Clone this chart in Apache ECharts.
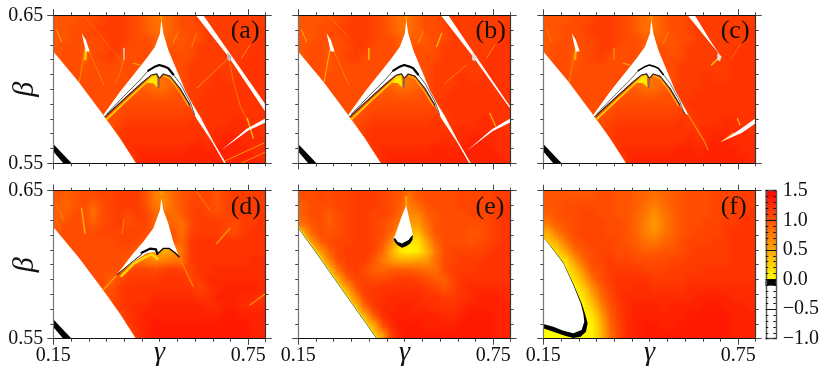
<!DOCTYPE html>
<html><head><meta charset="utf-8">
<style>html,body{margin:0;padding:0;background:#fff}#c{width:830px;height:374px}</style>
<script src="https://cdn.jsdelivr.net/npm/echarts@6/dist/echarts.min.js"></script>
</head><body><div id="c"></div>
<script>
// ---------- tick values ----------
const gammaMin = 0.15, gammaMax = 0.8035, betaMin = 0.55, betaMax = 0.65;
const gammaTicks = [0.15,0.2045,0.2591,0.3136,0.3682,0.4227,0.4773,0.5318,0.5864,0.6409,0.6955,0.75,0.8035];
const gammaLabels = [0.15,0.75];
const betaTicks = [0.55,0.56,0.57,0.58,0.59,0.6,0.61,0.62,0.63,0.64,0.65];
const betaLabels = [0.55,0.65];
const barTicks = [-1,-0.9,-0.8,-0.7,-0.6,-0.5,-0.4,-0.3,-0.2,-0.1,0,0.1,0.2,0.3,0.4,0.5,0.6,0.7,0.8,0.9,1,1.1,1.2,1.3,1.4,1.5];
const barMajor = [-0.5,0,0.5,1];
const barLabels = [-1,-0.5,0,0.5,1,1.5];
const barLevels = [-0.975,-0.925,-0.875,-0.825,-0.775,-0.725,-0.675,-0.625,-0.575,-0.525,-0.475,-0.425,-0.375,-0.325,-0.275,-0.225,-0.175,-0.125,-0.075,-0.025,0.025,0.075,0.125,0.175,0.225,0.275,0.325,0.375,0.425,0.475,0.525,0.575,0.625,0.675,0.725,0.775,0.825,0.875,0.925,0.975,1.025,1.075,1.125,1.175,1.225,1.275,1.325,1.375,1.425,1.475];

// ---------- sampled colour-scale values, rows from beta=0.65 down to beta=0.55 ----------
const fieldA = [
[1,1,1,1.05,1.05,1.1,1.15,1.15,1.1,1.05,.95,.85,.85,.95,1.05,1.05,1.1,1.15,1.15,1.15,1.15,1.15,1.15,1.15],
[1,1,1.05,1.05,1.1,1.15,1.15,1.15,1.1,1.05,.95,.85,.85,.95,1.05,1.05,1.1,1.15,1.15,1.15,1.15,1.15,1.15,1.2],
[1,1,1.05,1.05,1.05,1.1,1.15,1.15,1.1,1.05,1.05,.95,.95,.95,1,1.05,1.05,1.15,1.15,1.15,1.15,1.15,1.15,1.2],
[1,1.05,1.05,1,1.05,1.05,1.15,1.15,1.05,1.05,1.05,.95,.95,1.05,1,1.05,1.15,1.15,1.15,1.15,1.15,1.15,1.2,1.2],
[1,1.05,1.05,1,1.05,1.1,1.15,1.05,1.05,1.05,1.05,1.05,1.05,1.05,1.05,1.05,1.15,1.15,1.15,1.15,1.15,1.2,1.2,1.2],
[1.05,1.05,1.05,1,1.05,1.05,1.05,1.05,1.05,1.05,1.05,1.05,1.05,1.05,1.05,1.15,1.15,1.15,1.15,1.15,1.15,1.2,1.2,1.2],
[1.05,1.05,1.05,1.05,1.05,1.05,1.05,1.05,1.05,1.05,.95,.85,.85,.95,1.05,1.15,1.15,1.15,1.2,1.15,1.15,1.2,1.2,1.2],
[1.05,1.05,1.05,1.05,1.05,1.05,1.05,1.05,1.05,1,.9,.8,.85,.9,1.05,1.15,1.15,1.15,1.2,1.2,1.2,1.2,1.2,1.2],
[1.05,1.05,1.05,1.05,1.05,1.05,1.05,1.05,1,1,1,.95,.95,1,1.05,1.15,1.15,1.2,1.2,1.2,1.2,1.2,1.2,1.2],
[1.05,1.05,1.05,1.05,1.05,1.05,1.05,1,1.05,1.05,1.05,1.05,1.05,1.05,1.05,1.1,1.2,1.2,1.2,1.2,1.2,1.2,1.2,1.2],
[1.05,1.05,1.05,1.05,1.05,1.05,1,1.05,1.1,1.1,1.1,1.1,1.1,1.1,1.1,1.1,1.15,1.2,1.2,1.2,1.2,1.2,1.2,1.2],
[1.05,1.05,1.05,1.05,1.05,1.05,1.05,1.1,1.15,1.15,1.15,1.15,1.15,1.15,1.15,1.2,1.15,1.2,1.2,1.2,1.25,1.25,1.2,1.2],
[1.05,1.05,1.05,1.05,1.05,1.05,1.05,1.15,1.2,1.2,1.2,1.2,1.2,1.2,1.2,1.2,1.2,1.2,1.25,1.25,1.25,1.25,1.25,1.2],
[1.05,1.05,1.05,1.05,1.05,1.05,1.05,1.15,1.2,1.2,1.2,1.2,1.2,1.2,1.2,1.2,1.25,1.2,1.25,1.3,1.3,1.25,1.25,1.25],
[1.05,1.05,1.05,1.05,1.05,1.05,1.05,1.05,1.2,1.25,1.25,1.25,1.25,1.25,1.25,1.3,1.3,1.25,1.3,1.3,1.3,1.3,1.25,1.25],
[1.05,1.05,1.05,1.05,1.05,1.05,1.05,1.05,1.05,1.25,1.3,1.3,1.3,1.3,1.3,1.3,1.3,1.3,1.3,1.3,1.3,1.3,1.3,1.25]];
const fieldD = [
[1,.95,1,1.05,1.05,1.1,1.1,1.15,1.15,1.15,1,.75,.7,.9,1,1.05,1.1,1.1,1,1.1,1.15,1.15,1.15,1.15],
[.95,.9,1,1.05,.9,1.05,1.1,1.15,1.15,1.15,1,.8,.7,.85,1,1.1,1.1,1.1,1,1.1,1.15,1.15,1.15,1.15],
[.95,.95,1.05,1.05,.85,1.05,1.1,1.15,1.05,1.15,1.1,.9,.9,.85,.95,1.1,1.15,1.1,1.05,1.1,1.15,1.15,1.15,1.2],
[.95,1.05,1.05,1.05,.95,1.05,1.1,1.15,1.05,1.1,1.1,.9,.9,.9,.85,1.05,1.15,1.15,1.15,1.1,1.05,1.15,1.15,1.2],
[1,1.05,1.05,1.05,1.05,1.1,1.1,1.1,1.1,1.1,1.05,1,1,1,.85,1.1,1.15,1.15,1.15,1.1,1.05,1.15,1.2,1.2],
[1.05,1.05,1.05,1.05,1.05,1.05,1.05,1.1,1.1,1.05,1,1,1,1,.9,1.15,1.2,1.2,1.2,1.2,1.2,1.2,1.2,1.2],
[1.05,1.05,1.05,1.05,1.05,1.05,1.05,1.05,1.05,.95,.8,.55,.45,.6,.85,1.15,1.2,1.2,1.2,1.2,1.2,1.2,1.2,1.2],
[1.05,1.05,1.05,1.05,1.05,1.05,1.05,1.05,.95,.85,.75,.7,.75,.8,.85,1.15,1.2,1.2,1.2,1.2,1.2,1.2,1.25,1.25],
[1.05,1.05,1.05,1.05,1.05,1.05,1.05,1,1.05,1.1,1.1,1.05,1.1,1.15,1.1,1.1,1.2,1.2,1.25,1.25,1.25,1.25,1.25,1.25],
[1.05,1.05,1.05,1.05,1.05,1.05,.95,1.05,1.15,1.15,1.15,1.15,1.2,1.2,1.2,1.1,1.15,1.25,1.25,1.25,1.25,1.25,1.25,1.25],
[1.05,1.05,1.05,1.05,1.05,1.05,1,1.15,1.2,1.2,1.2,1.2,1.2,1.2,1.2,1.2,1.1,1.2,1.25,1.3,1.3,1.3,1.3,1.25],
[1.05,1.05,1.05,1.05,1.05,1.05,1.05,1.15,1.2,1.2,1.2,1.25,1.25,1.25,1.25,1.25,1.2,1.2,1.3,1.3,1.3,1.25,1.25,1.2],
[1.05,1.05,1.05,1.05,1.05,1.05,1.05,1.15,1.2,1.25,1.25,1.3,1.3,1.3,1.3,1.3,1.3,1.25,1.25,1.3,1.3,1.25,1.25,1.25],
[1.05,1.05,1.05,1.05,1.05,1.05,1.05,1.05,1.2,1.25,1.3,1.3,1.3,1.3,1.3,1.3,1.3,1.3,1.3,1.35,1.35,1.3,1.3,1.3],
[1.05,1.05,1.05,1.05,1.05,1.05,1.05,1.05,1.15,1.25,1.3,1.35,1.35,1.35,1.35,1.35,1.35,1.35,1.35,1.35,1.35,1.35,1.3,1.3],
[1.05,1.05,1.05,1.05,1.05,1.05,1.05,1.05,1.05,1.2,1.3,1.35,1.35,1.35,1.35,1.35,1.35,1.35,1.35,1.35,1.35,1.35,1.3,1.3]];
const fieldE = [
[1.05,1.05,1.1,1.05,1.1,1.1,1.15,1.15,1.15,1.1,1.05,1,.85,1,1.05,1.05,1.05,1.05,1.1,1.1,1.1,1.1,1.15,1.15],
[.95,1.05,1.05,1.05,1.1,1.1,1.15,1.15,1.15,1.1,1.05,.95,.75,.9,1,1.05,1.05,1.05,1.1,1.1,1.1,1.1,1.15,1.2],
[.95,1.05,1.05,.95,1.05,1.1,1.15,1.15,1.1,1.1,1.05,.9,.7,.7,.95,1,1.05,1.05,1.05,1.1,1.1,1.1,1.15,1.2],
[.85,1,1.05,.95,1.05,1.1,1.15,1.15,1.1,1.05,.95,.8,.6,.6,.85,1,1.05,1.05,1.05,1.05,1.05,1.1,1.15,1.2],
[.5,.9,1.05,1,1.05,1.1,1.15,1.15,1.1,1.05,.9,.6,.4,.4,.75,1,1.05,1.05,1.05,1,1,1.1,1.15,1.2],
[.3,.6,.95,1.05,1.1,1.1,1.15,1.15,1.1,1,.7,.3,.15,.15,.55,.9,1.05,1.05,1.05,1,1.05,1.1,1.15,1.2],
[.3,.3,.6,.95,1.1,1.15,1.15,1.15,1.1,.9,.5,.15,.05,.1,.4,.8,1.05,1.1,1.1,1.1,1.1,1.15,1.2,1.2],
[.3,.3,.3,.75,1.05,1.15,1.15,1.15,1,.8,.6,.5,.5,.55,.6,.85,1.05,1.1,1.15,1.15,1.15,1.2,1.2,1.2],
[1,1,.3,.4,.85,1.1,1.15,1.05,.95,.9,.95,.95,.95,.9,.85,.85,1.05,1.15,1.15,1.15,1.2,1.2,1.2,1.2],
[1,1,1,.3,.5,.95,1.1,1.1,1.05,1.05,1.1,1.15,1.15,1.1,1.05,.95,.95,1.1,1.2,1.2,1.2,1.2,1.2,1.2],
[1,1,1,.3,.3,.55,1,1.15,1.15,1.2,1.2,1.2,1.2,1.2,1.15,1.1,1,1.1,1.2,1.25,1.25,1.25,1.25,1.25],
[1,1,1,1,.3,.3,.7,1.1,1.2,1.2,1.25,1.25,1.25,1.25,1.2,1.2,1.15,1.15,1.2,1.25,1.3,1.3,1.3,1.25],
[1,1,1,1,1,.3,.4,.9,1.15,1.25,1.25,1.3,1.3,1.25,1.25,1.2,1.2,1.2,1.25,1.3,1.3,1.3,1.3,1.3],
[1,1,1,1,1,.3,.3,.45,.95,1.2,1.3,1.3,1.3,1.3,1.3,1.3,1.25,1.25,1.3,1.35,1.35,1.35,1.3,1.3],
[1,1,1,1,1,1,.3,.3,.5,1.05,1.25,1.35,1.35,1.35,1.3,1.3,1.3,1.3,1.35,1.35,1.35,1.35,1.3,1.3],
[1,1,1,1,1,1,1,.3,.3,.6,1.15,1.3,1.35,1.35,1.35,1.35,1.35,1.35,1.35,1.35,1.35,1.35,1.3,1.3]];
const fieldF = [
[1,1,1,1,1,1,1.05,1.05,1,1,.95,.9,.85,.9,.95,1,1.05,1.05,1.05,1.1,1.1,1.1,1.15,1.15],
[1,1,1.05,1.05,1.05,1.05,1.05,1.05,1,1,.95,.85,.75,.85,.95,1,1.05,1.05,1.05,1.1,1.1,1.15,1.15,1.15],
[.95,1,1.05,1.05,1.1,1.1,1.05,1.05,1,1,.9,.8,.65,.8,.9,1,1.05,1.05,1.05,1.1,1.1,1.15,1.15,1.2],
[.8,.95,1,1.05,1.1,1.1,1.1,1.05,1.05,1,.9,.75,.6,.75,.9,1,1.05,1.05,1.1,1.1,1.15,1.15,1.2,1.2],
[.5,.8,.95,1.05,1.1,1.1,1.1,1.05,1.05,1,.9,.75,.65,.8,.9,1,1.05,1.1,1.1,1.1,1.15,1.2,1.2,1.2],
[.3,.5,.8,1,1.05,1.1,1.1,1.1,1.05,1,.95,.85,.8,.9,.95,1.05,1.1,1.1,1.1,1.15,1.15,1.2,1.2,1.2],
[.2,.25,.55,.85,1,1.05,1.1,1.1,1.05,1.05,1,.95,.95,1,1,1.05,1.1,1.15,1.15,1.15,1.15,1.2,1.2,1.2],
[.1,.1,.2,.6,.9,1.05,1.1,1.15,1.1,1.1,1.05,1.05,1.05,1.05,1.1,1.1,1.15,1.15,1.15,1.15,1.15,1.2,1.2,1.2],
[0,0,.1,.35,.7,1,1.05,1.15,1.15,1.15,1.15,1.1,1.1,1.1,1.15,1.15,1.15,1.15,1.2,1.2,1.2,1.2,1.2,1.2],
[0,0,0,.2,.5,.85,1.05,1.15,1.2,1.2,1.2,1.2,1.15,1.15,1.15,1.15,1.2,1.2,1.2,1.2,1.2,1.2,1.2,1.2],
[0,0,0,0,.3,.65,.95,1.1,1.2,1.2,1.25,1.25,1.2,1.2,1.2,1.2,1.25,1.25,1.25,1.25,1.25,1.25,1.25,1.25],
[0,0,0,0,.15,.5,.85,1.05,1.2,1.25,1.25,1.25,1.25,1.25,1.25,1.25,1.25,1.3,1.3,1.3,1.3,1.25,1.25,1.25],
[0,0,0,0,.05,.3,.7,1,1.15,1.25,1.3,1.3,1.3,1.25,1.3,1.3,1.3,1.3,1.35,1.35,1.3,1.3,1.3,1.25],
[0,0,0,0,.05,.15,.55,.95,1.15,1.25,1.3,1.3,1.3,1.3,1.3,1.3,1.35,1.35,1.35,1.35,1.35,1.3,1.3,1.3],
[0,0,0,0,.02,.1,.45,.9,1.1,1.25,1.3,1.35,1.35,1.3,1.3,1.35,1.35,1.35,1.35,1.35,1.35,1.3,1.3,1.3],
[0,0,0,0,.02,.08,.4,.85,1.1,1.25,1.3,1.35,1.35,1.35,1.35,1.35,1.35,1.35,1.35,1.35,1.35,1.3,1.3,1.3]];

// ---------- region boundaries and ridge lines, as [gamma, beta] ----------
const lowerLeftWhite = [[.15,.6255],[.2269,.6052],[.3038,.5827],[.3551,.5669],[.4044,.55],[.15,.55]];
const blackStrip = [[.15,.5631],[.2064,.55],[.1808,.55],[.15,.5579]];
const cuspRight = [[.4823,.6473],[.4885,.6378],[.5038,.6266],[.5295,.6131],[.5551,.5996],[.5808,.5891]];
const ridgeInner = [[.5705,.5894],[.5397,.6007],[.5090,.6090],[.4885,.6104],[.4762,.6074],[.4679,.6104],[.4526,.6097],[.4269,.6052],[.3756,.5951],[.3090,.5815]];
const cuspLeft = [[.3038,.5827],[.3551,.5984],[.3962,.6097],[.4372,.6209],[.4628,.6288],[.4782,.6378]];
const longTail = [[.6013,.5818],[.6423,.5647],[.6813,.55],[.6760,.55],[.6375,.5647],[.5900,.5804]];
const shortTail = [[.5970,.5825],[.5880,.5835]];
const arcTop = [[.4423,.6126],[.46,.615],[.4762,.6164],[.49,.6155],[.5038,.6142],[.519,.61]];
const arcTailL = [[.315,.5835],[.3654,.595],[.4167,.6063],[.4423,.6126]];
const arcTailR = [[.519,.61],[.54,.604],[.57,.592],[.585,.583]];
const ridgeYellow = [[.313,.5795],[.378,.593],[.43,.6035],[.4526,.608],[.466,.6085]];
const ridgePatch = [[.4372,.6045],[.4526,.609],[.4679,.6097],[.47,.6014],[.4577,.6041]];
const ridgeStem = [[.4762,.6074],[.4742,.6014]];
const ridgeRightYellow = [[.49,.609],[.51,.607],[.54,.598],[.565,.589]];
const apexSpike = [[.4823,.6473],[.4823,.65]];
const bandA = [[.589,.65],[.6115,.65],[.7,.6221],[.8035,.5895],[.8035,.5845],[.6885,.6221]];
const bandB = [[.589,.65],[.6115,.65],[.6975,.6221],[.8035,.5878],[.799,.5878],[.6875,.6221]];
const bandC = [[.594,.65],[.616,.65],[.669,.6311],[.694,.6232],[.664,.6311]];
const wedgeA = [[.8035,.5805],[.8035,.5775],[.75,.5722],[.6679,.559],[.745,.5733]];
const wedgeB = [[.8035,.5805],[.8035,.5778],[.748,.5717],[.669,.5585],[.745,.5728]];
const wedgeC = [[.8035,.5805],[.8035,.577],[.76,.5705],[.699,.5647],[.75,.5722]];
const goldA1 = [[.6731,.5511],[.7982,.5637]];
const goldA2 = [[.7295,.5502],[.8035,.5577]];
const junctionBlot = [[.686,.625],[.699,.622],[.693,.619],[.685,.62]];
const streakDown = [[.6905,.621],[.7038,.6052],[.7243,.5894],[.7531,.5759]];
const streakLeft = [[.6833,.6198],[.591,.6007]];
const streakUpR = [[.7295,.621],[.7551,.63]];
const streakTop = [[.5913,.6378],[.5759,.6288]];
const starA = [[.7469,.5804],[.7654,.5669]];
const thinDiag = [[.2423,.65],[.3654,.6176]];
const thinDiagB = [[.2423,.65],[.3038,.6356]];
const leftSpur = [[.2577,.6266],[.3059,.6029]];
const leftBlot = [[.2372,.6378],[.25,.6335],[.262,.6255],[.25,.6255]];
const leftFall = [[.2474,.6266],[.23,.6052]];
const leftPatch = [[.2505,.6266],[.2485,.6203]];
const midSpike = [[.3674,.6277],[.3674,.6203]];
const midFall = [[.3674,.6203],[.3551,.6108],[.3397,.6041]];
const cornerStreak = [[.1603,.6401],[.1756,.6322]];
const dotsMid = [[.3962,.6176],[.415,.6165]];
const topRightFleck = [[.5346,.639],[.5192,.6311]];
const streakLeftB = [[.6679,.6165],[.6013,.6041]];
const starB = [[.7397,.5838],[.7572,.5752]];
const tailFadeC = [[.597,.5825],[.645,.565],[.657,.559]];
const junctionC = [[.6679,.6165],[.6936,.6221]];
const wedgeTailC = [[.699,.5647],[.735,.5705]];
const fleckC = [[.7469,.5804],[.755,.5759]];
// panel (d)
const cuspD = [[.4823,.6448],[.4885,.6369],[.5038,.6279],[.5192,.6155],[.5367,.6054],[.509,.6104],[.4885,.611],[.47,.6065],[.4628,.6088],[.4372,.6077],[.3962,.602],[.3449,.593],[.3962,.6077],[.4269,.6155],[.4577,.6246],[.4782,.6369]];
const ridgeDThin = [[.3449,.593],[.3962,.6025],[.4218,.607]];
const ridgeDThick = [[.4218,.6081],[.4474,.6108],[.4659,.6104],[.47,.6072]];
const ridgeDRight = [[.47,.6072],[.4885,.611],[.5069,.611],[.5244,.6081],[.5367,.6054]];
const ridgeDYellow = [[.36,.5925],[.3962,.6005],[.4269,.6045],[.4526,.607],[.47,.604]];
const tailDLeft = [[.3449,.593],[.3038,.5829]];
const tailDRight = [[.5367,.6054],[.5808,.5851]];
const streakD1 = [[.2372,.6381],[.2474,.6212]];
const streakD2 = [[.1623,.6395],[.1808,.6305]];
const streakD3 = [[.3674,.6305],[.3623,.6215]];
const streakD4 = [[.6936,.6246],[.6526,.6144]];
const streakD5 = [[.5913,.6493],[.632,.6369]];
const streakD6 = [[.7551,.5728],[.8035,.5806]];
// panel (e)
const leftWhiteE = [[.15,.625],[.2177,.6043],[.2792,.5851],[.3408,.566],[.392,.55],[.15,.55]];
const leftEdgeE = [[.15,.625],[.2177,.6043],[.2792,.5851],[.3408,.566],[.392,.55]];
const teardrop = [[.4823,.6403],[.4659,.6313],[.4485,.62],[.4433,.6178],[.4464,.6155],[.4556,.614],[.469,.6125],[.4823,.613],[.4946,.615],[.5028,.62],[.4997,.6234],[.4915,.6313]];
const crescent = [[.4433,.6178],[.4464,.6155],[.4556,.6133],[.469,.6115],[.4823,.6124],[.4946,.6144],[.5018,.6171],[.5028,.62],[.4967,.6189],[.4895,.6167],[.469,.6144],[.4556,.6155],[.4485,.6178]];
const teardropSpike = [[.4823,.6403],[.4823,.6459]];
// panel (f)
const whiteLobe = [[.15,.6185],[.1808,.6099],[.2115,.6009],[.2423,.5863],[.2649,.5739],[.2731,.5671],[.2761,.5615],[.2679,.5559],[.2423,.5536],[.2115,.5554],[.1808,.5581],[.15,.5599]];
const blackLobe = [[.15,.6185],[.1808,.6102],[.2115,.6015],[.2435,.5866],[.2679,.5739],[.2782,.5671],[.2864,.5604],[.2813,.5547],[.2649,.5514],[.2423,.5505],[.2167,.552],[.1808,.5547],[.15,.557]];

// ---------- styling ----------
function cmap(v){
  if (v < -0.09) return '#ffffff';
  if (v < 0) return '#000000';
  return 'rgb(255,' + Math.round(255*(1.5-Math.min(v,1.5))/1.5) + ',0)';
}
const W='#ffffff', K='#000000';
function poly(pts,fill,stroke,lw){return {pts,fill,stroke,lw,closed:true};}
function line(pts,color,lw){return {pts,color,lw,closed:false};}
const V=cmap;

const commonAB = [
  poly(lowerLeftWhite,W), poly(blackStrip,K)
];
function mountain(tail, arcW, tailW){
  return [
    poly(cuspRight.concat(tail,ridgeInner,cuspLeft),W),
    line(apexSpike,V(.6),2),
    poly(ridgePatch,V(.12)),
    line(ridgeYellow,V(.25),1.6),
    line(ridgeRightYellow,V(.4),1.2),
    line(ridgeInner,'#222',1.1),
    line(ridgeStem,'#666',1.3),
    line(arcTailL,'#333',tailW),line(arcTailR,'#333',tailW),
    line(arcTop,K,arcW)
  ];
}
const panels = [
 {key:'(a)',field:fieldA,shapes:commonAB.concat(
   [line(thinDiag,V(.7),.5),line(leftSpur,V(.65),.7),line(leftFall,V(.55),.8),line(leftPatch,V(.3),2.5),poly(leftBlot,W),
    line(midFall,V(.65),.7),line(midSpike,'#ddd',1.3),line(cornerStreak,V(.5),1),line(dotsMid,V(.5),1.2),line(topRightFleck,V(.6),.8),
    line(streakTop,V(.65),.8),line(streakLeft,V(.55),.8),line(streakDown,V(.65),.7),line(streakUpR,V(.55),.8),
    line(goldA1,V(.6),1),line(goldA2,V(.65),1),line(starA,V(.35),1.3),
    poly(bandA,W),poly(wedgeA,W),poly(junctionBlot,'#bbb')],
   mountain(longTail,2.2,.8))},
 {key:'(b)',field:fieldA,shapes:commonAB.concat(
   [line(thinDiagB,V(.65),.6),line(leftSpur,V(.65),.7),line(leftFall,V(.4),1),poly(leftBlot,W),
    line(midSpike,V(.25),1.3),line(cornerStreak,V(.5),1),line(topRightFleck,V(.5),.8),line(streakTop,V(.35),1.2),
    line(streakLeftB,V(.65),.8),line(streakUpR,V(.55),.8),line(starB,V(.45),1.2),
    poly(bandB,W),poly(wedgeB,W),poly(junctionBlot,'#ddd')],
   mountain(longTail,2.2,.8))},
 {key:'(c)',field:fieldA,shapes:commonAB.concat(
   [line(cornerStreak,V(.75),.8),line(leftFall,V(.6),.8),line(leftPatch,V(.45),2),poly(leftBlot,W),
    line(midSpike,V(.65),1.3),line(dotsMid,V(.55),1.2),line(topRightFleck,V(.65),.8),
    line(junctionC,V(.45),1.6),line(streakUpR,V(.75),.7),line(tailFadeC,V(.65),1.1),line(wedgeTailC,V(.55),1.2),line(fleckC,V(.45),1.2),
    poly(bandC,W),poly(wedgeC,W),poly(junctionBlot,'#ddd')],
   mountain(shortTail,1.6,.7))},
 {key:'(d)',field:fieldD,shapes:commonAB.concat(
   [line(streakD1,V(.5),1.6),line(streakD2,V(.8),1.6),line(streakD3,V(.85),1.6),line(streakD4,V(.65),1.5),line(streakD5,V(.9),1.6),line(streakD6,V(.65),1.3),
    line(tailDLeft,V(.6),1.6),line(tailDRight,V(.75),1.4),line(apexSpike,V(.6),2),line(ridgeDYellow,V(.25),2.6),
    poly(cuspD,W),line(ridgeDThin,K,.9),line(ridgeDThick,K,2.2),line(ridgeDRight,K,1.3)])},
 {key:'(e)',field:fieldE,shapes:[
    line(leftEdgeE,V(.05),2.2),poly(leftWhiteE,W),line(leftEdgeE,'#222',.6),
    line(teardropSpike,V(.5),2),poly(teardrop,W),poly(crescent,K)]},
 {key:'(f)',field:fieldF,shapes:[poly(blackLobe,K),poly(whiteLobe,W)]}
];

// ---------- layout ----------
const cols=[53.3,298.2,543.3], rows=[15.3,190.7], gw=212.4, gh=148;
const FONT='"Liberation Serif","DejaVu Serif",serif';
const grid=[],xAxis=[],yAxis=[],series=[],heatIdx=[],graphic=[];
const nx=fieldA[0].length, ny=fieldA.length;
const idx=n=>Array.from({length:n},(_,i)=>String(i));

// smooth rendering of a panel's cell values: a small bitmap scaled by the browser
function fieldBitmap(field){
  const cv=document.createElement('canvas');cv.width=nx;cv.height=ny;
  const ctx=cv.getContext('2d');
  field.forEach((r,i)=>r.forEach((v,j)=>{ctx.fillStyle=cmap(v);ctx.fillRect(j,i,1,1);}));
  return cv;
}

panels.forEach((p,k)=>{
  const col=k%3,row=k<3?0:1;
  grid.push({left:cols[col],top:rows[row],width:gw,height:gh,outerBoundsMode:'none',containLabel:false});
  const g=k;
  const showX=row===1, showY=col===0;
  const xBase=xAxis.length, yBase=yAxis.length;
  xAxis.push({gridIndex:g,type:'category',data:idx(nx),show:false});
  yAxis.push({gridIndex:g,type:'category',data:idx(ny),show:false});
  const vx=(pos,vals,len,labels,line)=>({gridIndex:g,type:'value',position:pos,min:gammaMin,max:gammaMax,z:10,
    splitLine:{show:false},
    axisLine:{show:line,onZero:false,lineStyle:{color:'#111',width:1}},
    axisTick:{show:true,length:len,customValues:vals,lineStyle:{color:'#444',width:1}},
    axisLabel:{show:!!labels,customValues:labels||[],margin:7,fontFamily:FONT,fontSize:20,color:'#111',formatter:v=>v.toFixed(2)}});
  const vy=(pos,vals,len,labels,line,c)=>({gridIndex:g,type:'value',position:pos,min:betaMin,max:betaMax,z:10,
    splitLine:{show:false},
    axisLine:{show:line,onZero:false,lineStyle:{color:c,width:1.2}},
    axisTick:{show:true,length:len,customValues:vals,lineStyle:{color:'#444',width:1}},
    axisLabel:{show:!!labels,customValues:labels||[],margin:10,fontFamily:FONT,fontSize:20,color:'#111',formatter:v=>v.toFixed(2)}});
  const xb=vx('bottom',gammaTicks,3,null,true);
  const xl=vx('bottom',gammaLabels,6,showX?gammaLabels:null,false);
  if(showX){xl.name='γ';xl.nameLocation='middle';xl.nameGap=0;xl.nameMoveOverlap=false;xl.nameTextStyle={fontFamily:FONT,fontStyle:'italic',fontSize:28,color:'#111'};}
  const xt=vx('top',gammaTicks,3,null,true);
  const xtl=vx('top',gammaLabels,6,null,false);
  xAxis.push(xb,xl,xt,xtl);
  const yb=vy('left',betaTicks,3,null,true,'#777');
  const yl=vy('left',betaLabels,6,showY?betaLabels:null,false,'#777');
  if(showY){yl.name='β';yl.nameLocation='middle';yl.nameGap=13;yl.nameRotate=90;yl.nameMoveOverlap=false;yl.nameTextStyle={fontFamily:FONT,fontStyle:'italic',fontSize:30,color:'#111'};}
  const yr=vy('right',betaTicks,3,null,true,'#333');
  const yrl=vy('right',betaLabels,6,null,false,'#333');
  yAxis.push(yb,yl,yr,yrl);

  const data=[];
  p.field.forEach((r,i)=>r.forEach((v,j)=>data.push([j,ny-1-i,v])));
  heatIdx.push(series.length);
  series.push({type:'heatmap',xAxisIndex:xBase,yAxisIndex:yBase,data,progressive:0,animation:false,silent:true,z:1});
  const bmp=fieldBitmap(p.field);
  series.push({type:'custom',xAxisIndex:xBase+1,yAxisIndex:yBase+1,z:2,silent:true,animation:false,clip:true,
    encode:{x:0,y:1},
    data:[[gammaMin,betaMin,-1]].concat(p.shapes.map((s,i)=>[gammaMin,betaMin,i])),
    renderItem:(params,api)=>{
      if(params.dataIndex===0){
        const a=api.coord([gammaMin,betaMax]),b=api.coord([gammaMax,betaMin]);
        return {type:'image',style:{image:bmp,x:a[0],y:a[1],width:b[0]-a[0],height:b[1]-a[1]}};
      }
      const s=p.shapes[params.dataIndex-1];
      const pts=s.pts.map(q=>api.coord(q));
      return s.closed
        ? {type:'polygon',shape:{points:pts},style:{fill:s.fill,stroke:s.stroke||null,lineWidth:s.lw||0}}
        : {type:'polyline',shape:{points:pts},style:{fill:null,stroke:s.color,lineWidth:s.lw,lineCap:'round',lineJoin:'round'}};
    }});
  graphic.push({type:'text',left:cols[col]+gw-35,top:rows[row]+3,z:20,
    style:{text:p.key,fontFamily:FONT,fontSize:26,fill:'#111'}});
});

// colour bar
const g=panels.length;
grid.push({left:765.8,top:190.7,width:10,height:148,outerBoundsMode:'none',containLabel:false});
const bx=xAxis.length, by=yAxis.length;
xAxis.push({gridIndex:g,type:'category',data:['0'],show:false});
yAxis.push({gridIndex:g,type:'category',data:barLevels.map(String),show:false});
const barAxis=(pos,vals,len,labels,line)=>({gridIndex:g,type:'value',position:pos,min:-1,max:1.5,z:10,
  splitLine:{show:false},
  axisLine:{show:line,onZero:false,lineStyle:{color:'#555',width:1.4}},
  axisTick:{show:true,inside:true,length:len,customValues:vals,lineStyle:{color:'#111',width:1}},
  axisLabel:{show:!!labels,customValues:labels||[],margin:7,fontFamily:FONT,fontSize:20,color:'#111',
    formatter:v=>v.toFixed(1).replace('-','\u2212')}});
xAxis.push({gridIndex:g,type:'value',position:'bottom',min:0,max:1,show:true,z:10,splitLine:{show:false},axisTick:{show:false},axisLabel:{show:false},axisLine:{show:true,onZero:false,lineStyle:{color:'#555',width:1.4}}},
           {gridIndex:g,type:'value',position:'top',min:0,max:1,show:true,z:10,splitLine:{show:false},axisTick:{show:false},axisLabel:{show:false},axisLine:{show:true,onZero:false,lineStyle:{color:'#555',width:1.4}}});
yAxis.push(barAxis('left',barTicks,2.5,null,true),barAxis('right',barTicks,2.5,barLabels,true),barAxis('left',barMajor,10,null,false));
heatIdx.push(series.length);
series.push({type:'heatmap',xAxisIndex:bx,yAxisIndex:by,data:barLevels.map((v,i)=>[0,i,v]),animation:false,silent:true,z:1});

const pieces=[{gte:-1.01,lt:-0.09,color:'#ffffff'},{gte:-0.09,lt:0,color:'#000000'}];
for(let i=0;i<60;i++){const a=i*0.025;pieces.push({gte:a-1e-6,lt:a+0.025-1e-6,color:cmap(a+0.0125)});}
pieces[pieces.length-1].lt=2;

const chart=echarts.init(document.getElementById('c'),null,{renderer:'canvas'});
chart.setOption({animation:false,backgroundColor:'#fff',grid,xAxis,yAxis,series,graphic,
  visualMap:{type:'piecewise',show:false,seriesIndex:heatIdx,dimension:2,pieces}});
</script></body></html>
